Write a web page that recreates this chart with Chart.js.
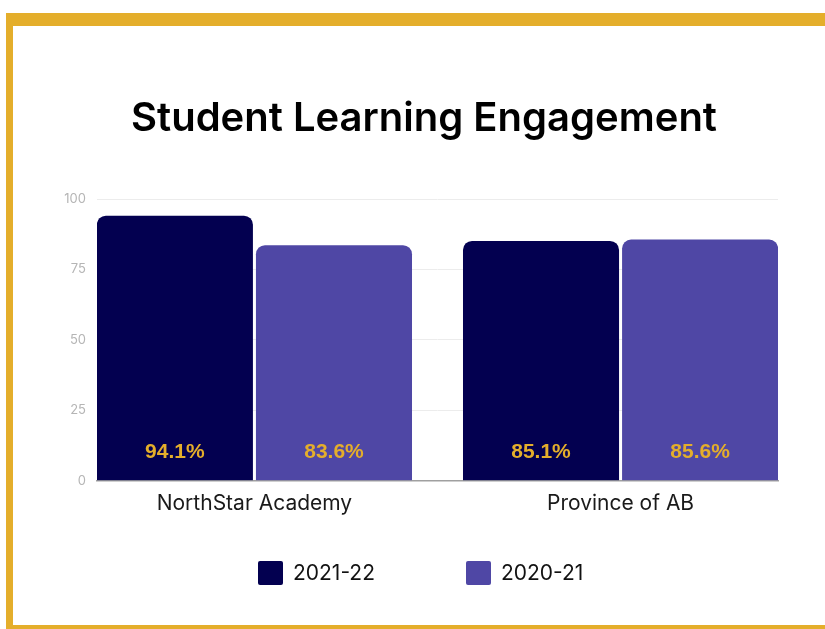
<!DOCTYPE html>
<html>
<head>
<meta charset="utf-8">
<script src="https://cdn.jsdelivr.net/npm/chart.js@4/dist/chart.umd.min.js"></script>
<style>
  html, body { margin: 0; padding: 0; width: 825px; height: 629px; overflow: hidden; background: #fff; }
  .frame {
    position: absolute; left: 6px; top: 13px; width: 900px; height: 599px;
    border-left: 7px solid #e4ae2b; border-top: 13px solid #e4ae2b; border-bottom: 13px solid #e4ae2b;
  }
  #chart { position: absolute; left: 13px; top: 26px; }
  .legend-item {
    position: absolute; top: 561px; display: flex; align-items: center;
    font-family: Inter, "Noto Sans", sans-serif; font-size: 21px; line-height: 24px; color: #111;
  }
  .legend-box { width: 25px; height: 24px; border-radius: 2px; margin-right: 10px; }
</style>
</head>
<body>
<div class="frame"></div>
<canvas id="chart" width="822" height="599"></canvas>
<div id="legend"></div>
<script>
  const categories = ["NorthStar Academy", "Province of AB"];
  const seriesNames = ["2021-22", "2020-21"];
  const values2122 = [94.1, 85.1];
  const values2021 = [83.6, 85.6];
  const seriesColors = ["#030050", "#4f47a5"];
  const legendLeft = [258, 466];
  const gold = "#e4ae2b";

  const toPoints = (vals) => vals.map((v, i) => ({ x: i, y: v }));

  const valueLabels = {
    id: "valueLabels",
    afterDatasetsDraw(chart) {
      const { ctx } = chart;
      const base = chart.scales.y.getPixelForValue(0);
      ctx.save();
      ctx.font = 'bold 21px "Liberation Sans", Arial, sans-serif';
      ctx.fillStyle = gold;
      ctx.textAlign = "center";
      ctx.textBaseline = "middle";
      chart.data.datasets.forEach((ds, di) => {
        chart.getDatasetMeta(di).data.forEach((bar, i) => {
          ctx.fillText(ds.data[i].y.toFixed(1) + "%", bar.x, base - 29);
        });
      });
      ctx.restore();
    }
  };

  const chart = new Chart(document.getElementById("chart"), {
    type: "bar",
    data: {
      datasets: [
        { label: seriesNames[0], data: toPoints(values2122), backgroundColor: seriesColors[0] },
        { label: seriesNames[1], data: toPoints(values2021), backgroundColor: seriesColors[1] }
      ]
    },
    options: {
      responsive: false,
      animation: false,
      categoryPercentage: 0.869,
      barPercentage: 0.981,
      borderRadius: { topLeft: 9, topRight: 9 },
      borderSkipped: "bottom",
      layout: { padding: { left: 0, right: 0, top: 0, bottom: 99 } },
      plugins: {
        legend: { display: false },
        tooltip: { enabled: false },
        title: {
          display: true,
          text: "Student Learning Engagement",
          color: "#000",
          font: { family: "Inter", size: 40, weight: "600" },
          padding: { top: 68.5, bottom: 56.5 }
        }
      },
      scales: {
        x: {
          type: "linear",
          offset: false,
          min: -0.43,
          max: 1.43,
          grid: { display: false, drawTicks: false },
          border: { display: true, color: "#a0a0a0", width: 1.5 },
          ticks: {
            stepSize: 1,
            includeBounds: false,
            maxRotation: 0,
            autoSkip: false,
            padding: 10,
            color: "#1a1a1a",
            font: { family: "Inter", size: 21 },
            callback: (v) => categories[v] ?? ""
          }
        },
        y: {
          min: 0,
          max: 100,
          grid: { color: "#ececec", drawTicks: false },
          border: { display: false },
          ticks: {
            stepSize: 25,
            padding: 11,
            color: "#b5b5b5",
            font: { family: "Inter", size: 13 }
          },
          afterFit: (s) => { s.width = 84; }
        },
        // empty right axis: only reserves the white margin right of the plot
        yRight: {
          position: "right",
          grid: { display: false, drawTicks: false },
          border: { display: false },
          ticks: { display: false },
          afterFit: (s) => { s.width = 57; }
        }
      }
    },
    plugins: [valueLabels]
  });

  document.getElementById("legend").innerHTML = seriesNames
    .map((name, i) => `<div class="legend-item" style="left:${legendLeft[i]}px"><div class="legend-box" style="background:${seriesColors[i]}"></div><span>${name}</span></div>`)
    .join("");
</script>
</body>
</html>
